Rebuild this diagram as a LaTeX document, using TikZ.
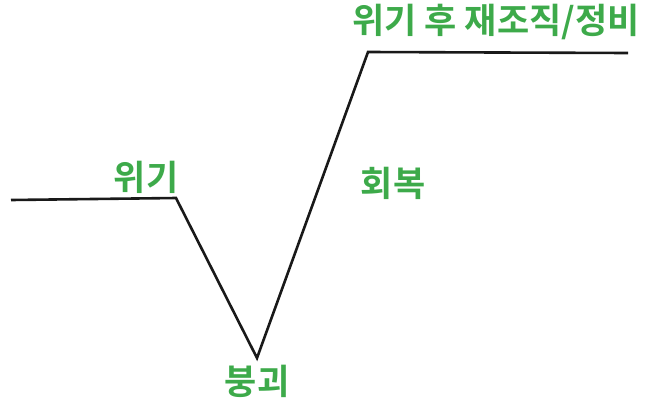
\documentclass[tikz,border=0pt]{standalone}
\usepackage{fontspec}
\newfontfamily\kofont{Noto Sans CJK KR}[BoldFont={* Bold}]
\definecolor{labelgreen}{HTML}{3DAA4A}
\tikzset{
	phase/.style={font=\kofont\bfseries\fontsize{35}{38}\selectfont, text=labelgreen, inner sep=0pt},
}
\begin{document}
\begin{tikzpicture}[x=1pt, y=-1pt]

	\useasboundingbox (0,0) rectangle (655,402);
	\coordinate (start) at (11,200);
	\coordinate (crisis) at (176,198);
	\coordinate (collapse) at (257,358);
	\coordinate (peak) at (368,52);
	\coordinate (end) at (628,53);

	\draw [line width=2.6pt, black!90] (start) -- (crisis) -- (collapse) -- (peak) -- (end);

	\node [phase] (crisislabel) at (146,177) {위기};
	\node [phase] (collapselabel) at (257,381) {붕괴};
	\node [phase] (recoverylabel) at (393,183) {회복};
	\node [phase] (reorglabel) at (496,22) {위기 후 재조직/정비};
\end{tikzpicture}
\end{document}
